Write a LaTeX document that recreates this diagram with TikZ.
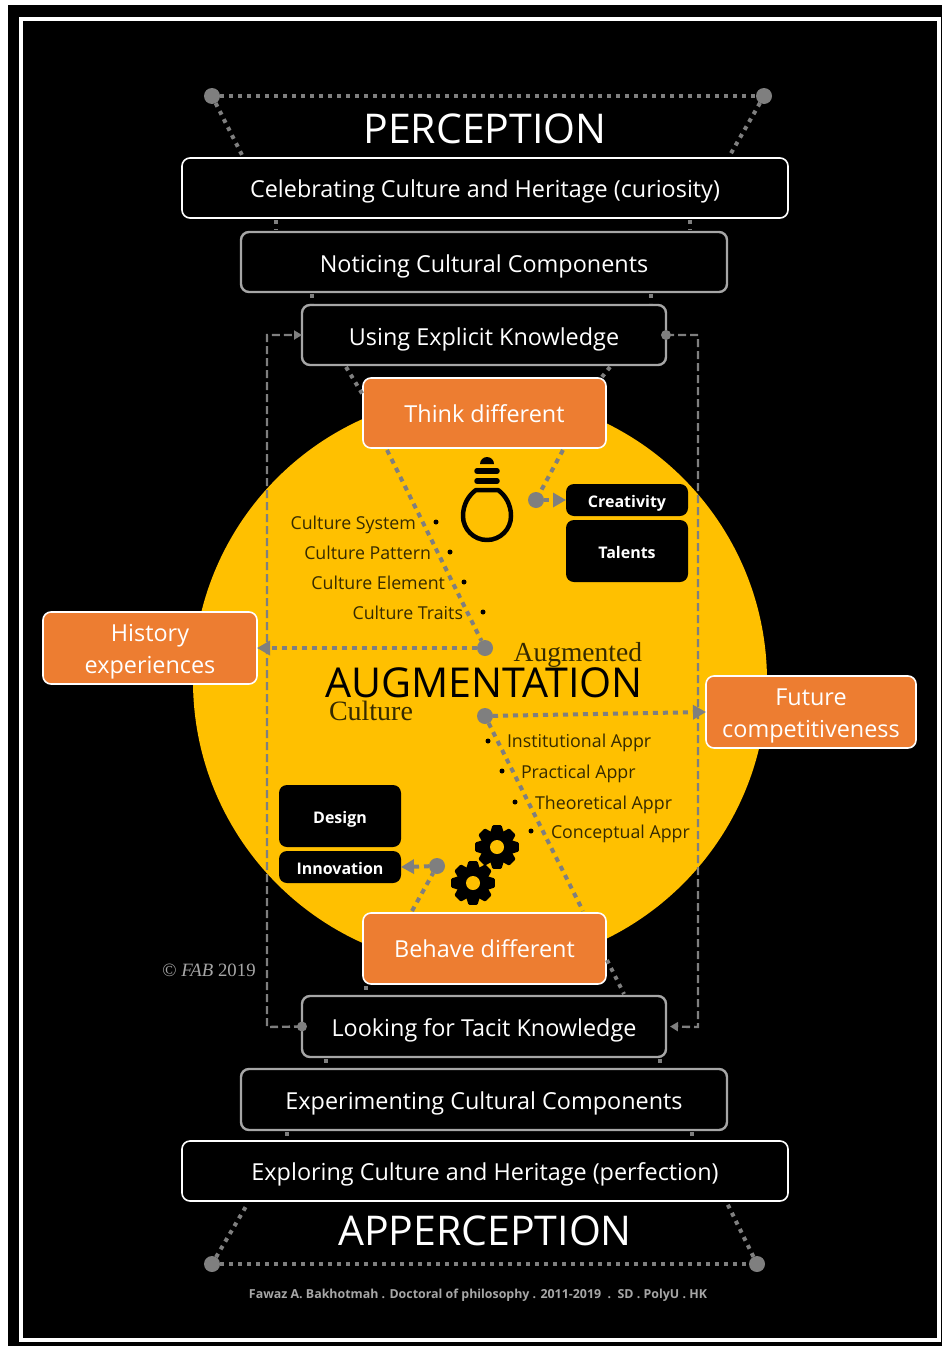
\documentclass[tikz,border=0pt]{standalone}
\usepackage{fontspec}
\setmainfont{Open Sans}
\newfontfamily\serifface{Liberation Serif}
\usetikzlibrary{arrows.meta,calc}
\definecolor{connGray}{HTML}{7F7F7F}
\definecolor{boxGray}{HTML}{A6A6A6}
\definecolor{orangeBox}{HTML}{ED7D31}
\definecolor{sunYellow}{HTML}{FFC000}
\definecolor{listInk}{HTML}{352A00}
\newcommand{\fs}[1]{\fontsize{#1}{#1}\selectfont}
\tikzset{
  x=1pt,y=-1pt,
  every node/.style={inner sep=0pt,outer sep=0pt},
  boxbase/.style={rectangle,rounded corners=8pt,align=center,anchor=north west},
  lightbox/.style={boxbase,draw=white,line width=1.6pt,fill=black,text=white,font=\fs{23.4},text height=25pt,text depth=6pt},
  greybox/.style={boxbase,draw=boxGray,line width=2.4pt,fill=black,text=white,font=\fs{23.4},text height=26pt,text depth=6pt},
  orangebox/.style={boxbase,draw=white,line width=1.6pt,fill=orangeBox,text=white,font=\fs{23.4}},
  singleline/.style={text height=24pt,text depth=6pt},
  blackbox/.style={boxbase,fill=black,text=white,font=\fs{16}\bfseries,text height=19pt,text depth=4pt},
  dotline/.style={draw=connGray,line width=4pt,dash pattern=on 5pt off 5pt},
  fineline/.style={draw=connGray,line width=4pt,dash pattern=on 4pt off 5pt},
  dashline/.style={draw=connGray,line width=2.4pt,dash pattern=on 8pt off 4pt},
  hub/.style={circle,fill=connGray,minimum size=16pt},
  bullet/.style={circle,fill=black,minimum size=5pt},
  listtext/.style={text=listInk,font=\fs{17.8}},
  bigarrow/.style={-{Triangle[length=13pt,width=14pt,fill=connGray]}},
  smallarrow/.style={-{Triangle[length=8pt,width=9pt,fill=connGray]}},
  gearink/.style={fill=black,draw=none},
  title/.style={text=white,font=\fs{41}},
}
\newcommand{\gearshape}[2]{%
  \fill[gearink] (#1,#2) circle[radius=16];
  \foreach \a in {0,45,...,315}{
    \fill[gearink,shift={(#1,#2)},rotate=\a,rounded corners=1pt] (-4.5,-21.8) -- (4.5,-21.8) -- (7.5,-12) -- (-7.5,-12) -- cycle;
  }
  \fill[sunYellow] (#1,#2) circle[radius=7];
}
\begin{document}
\begin{tikzpicture}
\useasboundingbox (0,0) rectangle (942,1346);
\fill[white] (0,0) rectangle (942,1346);
\fill[black] (8,5) rectangle (942,1346);
\draw[white,line width=4pt] (21,19) rectangle (939,1340);
\fill[sunYellow] (480,681) circle[radius=287];

\node[lightbox,minimum width=606pt,minimum height=60pt] (cel) at (182,158) {Celebrating Culture and Heritage (curiosity)};
\node[greybox,minimum width=486pt,minimum height=60pt] (not) at (241,232) {Noticing Cultural Components};
\node[greybox,minimum width=364pt,minimum height=60pt] (exk) at (302,305) {Using Explicit Knowledge};
\node[orangebox,singleline,minimum width=243pt,minimum height=70pt] (think) at (363,378) {Think different};
\node[orangebox,singleline,minimum width=243pt,minimum height=71pt] (behave) at (363,913) {Behave different};
\node[greybox,minimum width=364pt,minimum height=61pt] (tacit) at (302,996) {Looking for Tacit Knowledge};
\node[greybox,minimum width=486pt,minimum height=61pt] (expc) at (241,1069) {Experimenting Cultural Components};
\node[lightbox,minimum width=606pt,minimum height=60pt] (expl) at (182,1141) {Exploring Culture and Heritage (perfection)};
\node[orangebox,minimum width=214pt,minimum height=72pt] (hist) at (43,612) {\rule{0pt}{25pt}History\\[9pt]experiences};
\node[orangebox,minimum width=210pt,minimum height=72pt] (fut) at (706,676) {\rule{0pt}{25pt}Future\\[9pt]competitiveness};
\node[blackbox,minimum width=122pt,minimum height=32pt] (crea) at (566,484) {Creativity};
\node[blackbox,minimum width=122pt,minimum height=62pt] (tal) at (566,520) {Talents};
\node[blackbox,minimum width=122pt,minimum height=62pt] (des) at (279,785) {Design};
\node[blackbox,minimum width=122pt,minimum height=32pt] (inno) at (279,851) {Innovation};

\node[title] (perc) at (485,129) {PERCEPTION};
\node[title] (apper) at (485,1231) {APPERCEPTION};

% corner hubs
\node[hub] (pl) at (212,96) {};
\node[hub] (pr) at (764,96) {};
\node[hub] (al) at (212,1264) {};
\node[hub] (ar) at (757,1264) {};
\draw[fineline] (pl) -- (pr);
\draw[fineline] (al) -- (ar);
\draw[fineline] (pl) -- ($(cel.north west)+(60,-3)$);
\draw[fineline] (pr) -- ($(cel.north east)+(-58,-3)$);
\draw[fineline] (al) -- ($(expl.south west)+(66,2)$);
\draw[fineline] (ar) -- ($(expl.south east)+(-61,2)$);

% short links between stacked boxes
\draw[fineline] ($(cel.south west)+(94,2)$) -- ($(not.north west)+(35,-2)$);
\draw[fineline] ($(cel.south east)+(-98,2)$) -- ($(not.north east)+(-37,-2)$);
\draw[fineline] ($(not.south west)+(71,2)$) -- ($(exk.north west)+(10,-2)$);
\draw[fineline] ($(not.south east)+(-76,2)$) -- ($(exk.north east)+(-15,-2)$);
\draw[fineline] ($(exk.south west)+(44,2)$) -- ($(think.north west)+(0,17)$);
\draw[fineline] ($(exk.south east)+(-56,2)$) -- ($(think.north east)+(-4,-1)$);
\draw[fineline] ($(behave.south west)+(3,2)$) -- ($(tacit.north west)+(64,-2)$);
\draw[fineline] ($(behave.north east)+(1,47)$) -- ($(tacit.north east)+(-42,-2)$);
\draw[fineline] ($(tacit.south west)+(24,2)$) -- ($(expc.north west)+(85,-2)$);
\draw[fineline] ($(tacit.south east)+(-6,2)$) -- ($(expc.north east)+(-67,-2)$);
\draw[fineline] ($(expc.south west)+(46,2)$) -- ($(expl.north west)+(105,-2)$);
\draw[fineline] ($(expc.south east)+(-35,2)$) -- ($(expl.north east)+(-96,-2)$);

% dashed loop
\coordinate (lt) at (267,335);
\coordinate (lb) at (267,1027);
\coordinate (rt) at (698,335);
\coordinate (rb) at (698,1027);
\coordinate (rin) at ($(tacit.east)+(4,0)$);
\draw[dashline,smallarrow] (tacit.west) -- (lb) -- (lt) -- (exk.west);
\draw[dashline,smallarrow] (exk.east) -- (rt) -- (rb) -- (rin);
\node[circle,fill=connGray,minimum size=10pt] (dl) at (tacit.west) {};
\node[circle,fill=connGray,minimum size=10pt] (dr) at (exk.east) {};

% central hubs and dotted links
\node[hub] (hubup) at (485,648) {};
\node[hub] (hubdn) at (485,716) {};
\node[hub] (hubbulb) at (536,500) {};
\node[hub] (hubgear) at (437,866) {};
\draw[dotline] ($(think.south west)+(24,2)$) -- (hubup);
\draw[dotline] (hubdn) -- ($(behave.north west)+(220,-2)$);
\draw[dotline,bigarrow] (hubup) -- (hist.east);
\draw[dotline,bigarrow] (hubdn) -- (fut.west);
\draw[dotline] ($(think.south east)+(-43,2)$) -- (hubbulb);
\draw[dotline,bigarrow] (hubbulb) -- (crea.west);
\draw[dotline] ($(behave.north west)+(49,-2)$) -- (hubgear);
\draw[dotline,bigarrow] (hubgear) -- (inno.east);

% lists
\node[listtext,anchor=base east] (t1) at (416,529) {Culture System};
\node[listtext,anchor=base east] (t2) at (431,559) {Culture Pattern};
\node[listtext,anchor=base east] (t3) at (445,589) {Culture Element};
\node[listtext,anchor=base east] (t4) at (463,619) {Culture Traits};
\node[bullet] (b1) at (436,522) {};
\node[bullet] (b2) at (450,552) {};
\node[bullet] (b3) at (464,582) {};
\node[bullet] (b4) at (483,612) {};
\node[listtext,anchor=base west] (t5) at (507,747) {Institutional Appr};
\node[listtext,anchor=base west] (t6) at (521,778) {Practical Appr};
\node[listtext,anchor=base west] (t7) at (535,809) {Theoretical Appr};
\node[listtext,anchor=base west] (t8) at (551,838) {Conceptual Appr};
\node[bullet] (b5) at (488,741) {};
\node[bullet] (b6) at (502,771) {};
\node[bullet] (b7) at (515,802) {};
\node[bullet] (b8) at (531,831) {};

% central titles
\node[text=black,font=\fs{41.2}] (aug) at (484,683) {AUGMENTATION};
\node[text=listInk,font=\serifface\fs{27.5},anchor=base east] (augd) at (642,661) {Augmented};
\node[text=listInk,font=\serifface\fs{28},anchor=base west] (cult) at (329,720) {Culture};

% bulb
\draw[black,line width=4.5pt,line join=round] (476,490) -- (498,490) .. controls (505,495) and (511,504) .. (511,516)
  arc[start angle=0,end angle=180,radius=24] .. controls (463,504) and (469,495) .. (476,490) -- cycle;
\draw[black,line width=5.5pt,line cap=round] (477,481) -- (497,481);
\draw[black,line width=5.5pt,line cap=round] (477,471) -- (497,471);
\fill[black] (480,464) arc[start angle=180,end angle=360,radius=7] -- cycle;

% gears
\gearshape{497}{847}
\gearshape{473}{883}

% credits
\node[text=boxGray,font=\serifface\fs{18.8}] (fab) at (209,970) {© \textit{FAB} 2019};
\node[text=boxGray,font=\fs{12.4}\bfseries] (foot) at (478,1295) {Fawaz A. Bakhotmah . Doctoral of philosophy . 2011-2019~~.~~SD . PolyU . HK};
\end{tikzpicture}
\end{document}
